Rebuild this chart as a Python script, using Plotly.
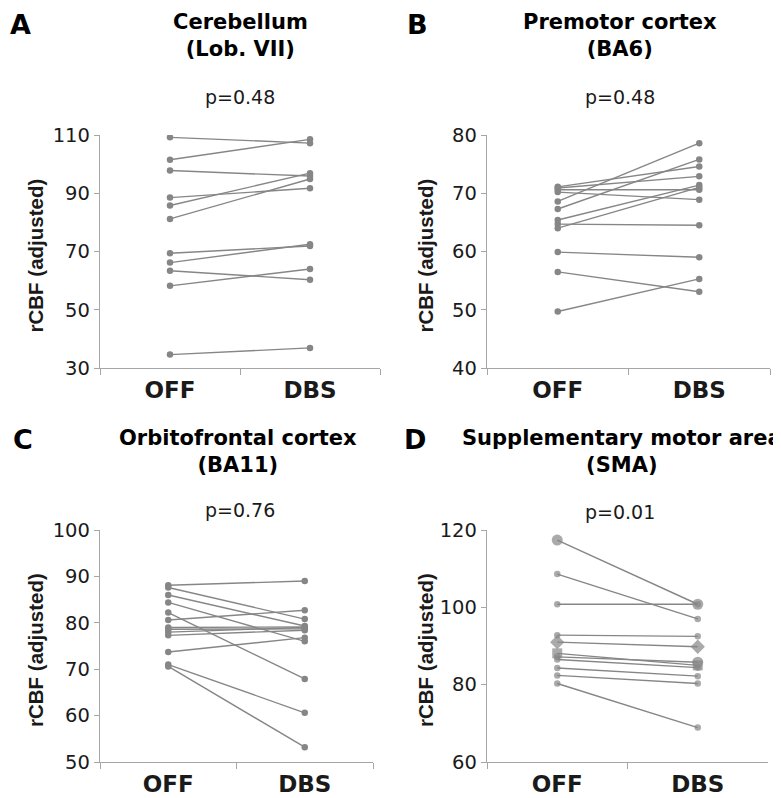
import plotly.graph_objects as go

# ---------------- data ----------------
categories = ["OFF", "DBS"]

# Panel A: Cerebellum (Lob. VII)
A_off = [109.2, 101.5, 97.8, 88.5, 85.8, 81.2, 69.4, 66.2, 63.4, 58.2, 34.6]
A_dbs = [107.2, 108.5, 95.9, 91.7, 96.9, 94.9, 71.9, 72.5, 60.3, 64.0, 36.9]

# Panel B: Premotor cortex (BA6)
B_off = [71.1, 70.9, 70.6, 70.2, 68.6, 67.3, 65.4, 64.7, 64.0, 59.9, 56.5, 49.7]
B_dbs = [74.6, 72.9, 70.6, 68.9, 78.6, 75.8, 71.4, 64.5, 71.0, 59.0, 53.1, 55.3]

# Panel C: Orbitofrontal cortex (BA11)
C_off = [88.1, 87.6, 86.0, 84.4, 82.2, 80.6, 79.0, 78.6, 78.0, 77.3, 73.7, 71.0, 70.6]
C_dbs = [89.0, 80.8, 79.3, 76.0, 67.9, 82.7, 79.1, 78.7, 79.0, 78.4, 76.8, 60.6, 53.2]

# Panel D: Supplementary motor area (SMA)
D_off = [117.4, 108.6, 100.8, 92.8, 91.0, 88.1, 87.2, 86.5, 84.3, 82.4, 80.3]
D_dbs = [100.8, 97.0, 100.8, 92.5, 89.8, 85.0, 85.8, 84.4, 82.2, 80.3, 68.9]

letters = ["A", "B", "C", "D"]
titles = ["Cerebellum<br>(Lob. VII)", "Premotor cortex<br>(BA6)",
          "Orbitofrontal cortex<br>(BA11)", "Supplementary motor area<br>(SMA)"]
pvalues = ["p=0.48", "p=0.48", "p=0.76", "p=0.01"]
y_ranges = [[30, 110], [40, 80], [50, 100], [60, 120]]
y_dticks = [20, 10, 10, 20]
y_title = "rCBF (adjusted)"

# ---------------- styles ----------------
OFFSET = 8                 # page body margin in the browser
FW, FH = 781 - OFFSET, 798 - OFFSET
GRAY = "#868686"
AXIS = "#a6a6a6"
TXT = "#1a1a1a"
HFONT = "DejaVu Sans"
VFONT = "Liberation Sans"

# marker styles for panel D (special subjects)
D_sym_off = ["circle", "circle", "circle", "circle", "diamond", "square",
             "circle", "circle", "circle", "circle", "circle"]
D_sym_dbs = ["circle", "circle", "circle", "circle", "diamond", "square",
             "circle", "circle", "circle", "circle", "circle"]
D_size_off = [11, 6.5, 6.5, 6.5, 11, 10, 6.5, 6.5, 6.5, 6.5, 6.5]
D_size_dbs = [11, 6.5, 6.5, 6.5, 11, 10, 11, 6.5, 6.5, 6.5, 6.5]

# layout (screen pixel boxes) for each panel: x0, x1, ytop, ybottom
boxes = [(100, 380, 135, 368), (487, 770, 135, 368),
         (100, 373, 530, 762), (487, 768, 530, 762)]
letter_pos = [(21, 8), (417, 8), (23, 423), (415, 423)]   # top of text box
title_pos = [(240, 36), (620, 36), (238, 451), (622, 451)]
p_pos = [(240, 97), (620, 97), (240, 510), (620, 512)]
ytitle_x = [35, 425, 35, 425]

data_off = [A_off, B_off, C_off, D_off]
data_dbs = [A_dbs, B_dbs, C_dbs, D_dbs]


def px(x):
    return (x - OFFSET) / FW


def py(y):
    return 1 - (y - OFFSET) / FH


fig = go.Figure()
annotations = []
layout = {}

for k in range(4):
    sfx = "" if k == 0 else str(k + 1)
    xa, ya = "x" + sfx, "y" + sfx
    off, dbs = data_off[k], data_dbs[k]
    for i in range(len(off)):
        if k == 3:
            sym = [D_sym_off[i], D_sym_dbs[i]]
            size = [D_size_off[i], D_size_dbs[i]]
        else:
            sym = "circle"
            size = 6.5
        fig.add_trace(go.Scatter(
            x=categories, y=[off[i], dbs[i]], mode="lines+markers",
            xaxis=xa, yaxis=ya, showlegend=False, hoverinfo="skip",
            line=dict(color=GRAY, width=1.4),
            marker=dict(color=GRAY, size=size, symbol=sym, line=dict(width=0)),
        ))
    x0, x1, yt, yb = boxes[k]
    layout["xaxis" + sfx] = dict(
        domain=[px(x0), px(x1)], anchor=ya, type="category",
        categoryorder="array", categoryarray=categories, range=[-0.5, 1.5],
        showline=True, linecolor=AXIS, linewidth=1.3, showgrid=False,
        zeroline=False, ticks="outside", tickson="boundaries", ticklen=6,
        tickcolor=AXIS, tickwidth=1.3, automargin=False,
        tickfont=dict(family=HFONT, size=23, color=TXT, weight="bold"),
        ticklabelstandoff=1, fixedrange=True,
    )
    layout["yaxis" + sfx] = dict(
        domain=[py(yb), py(yt)], anchor=xa, range=y_ranges[k],
        tick0=y_ranges[k][0], dtick=y_dticks[k],
        showline=True, linecolor=AXIS, linewidth=1.3, showgrid=False,
        zeroline=False, ticks="outside", ticklen=5, tickcolor=AXIS,
        tickwidth=1.3, automargin=False,
        tickfont=dict(family=HFONT, size=19.5, color=TXT),
        fixedrange=True,
    )
    lx, ly = letter_pos[k]
    annotations.append(dict(
        x=px(lx), y=py(ly), xref="paper", yref="paper", text="<b>%s</b>" % letters[k],
        showarrow=False, xanchor="center", yanchor="top", borderpad=0,
        font=dict(family=HFONT, size=27, color="#000000")))
    tx, ty = title_pos[k]
    annotations.append(dict(
        x=px(tx), y=py(ty), xref="paper", yref="paper",
        text="<b>%s</b>" % titles[k].replace("<br>", "</b><br><b>"),
        showarrow=False, xanchor="center", yanchor="middle",
        font=dict(family=HFONT, size=21, color="#000000")))
    qx, qy = p_pos[k]
    annotations.append(dict(
        x=px(qx), y=py(qy), xref="paper", yref="paper", text=pvalues[k],
        showarrow=False, xanchor="center", yanchor="middle",
        font=dict(family=HFONT, size=19, color=TXT)))
    annotations.append(dict(
        x=px(ytitle_x[k]), y=py((yt + yb) / 2 + 4), xref="paper", yref="paper",
        text="<b>%s</b>" % y_title, textangle=-90,
        showarrow=False, xanchor="center", yanchor="middle",
        font=dict(family=VFONT, size=20.5, color=TXT)))

fig.update_layout(
    width=FW, height=FH, margin=dict(l=0, r=0, t=0, b=0, autoexpand=False),
    paper_bgcolor="white", plot_bgcolor="white",
    annotations=annotations, **layout,
)

fig.write_html("out.html")
